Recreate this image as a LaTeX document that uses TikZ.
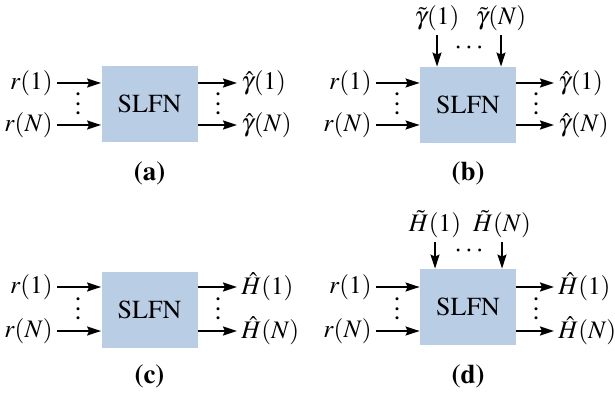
\documentclass[tikz,border=0pt]{standalone}
\usepackage[T1]{fontenc}
\usepackage{mathptmx}
\usetikzlibrary{arrows.meta,positioning}
\definecolor{slfnblue}{RGB}{185,205,229}
\newcommand{\vdotsx}{\vbox{\baselineskip4.8pt\lineskiplimit0pt\hbox{.}\hbox{.}\hbox{.}}}

\begin{document}
\begin{tikzpicture}[
    x=0.5pt, y=-0.5pt,
    box/.style={rectangle, fill=slfnblue, minimum width=48pt, minimum height=38pt, font=\fontsize{13}{15}\selectfont},
    lbl/.style={inner sep=2pt, font=\fontsize{12.6}{15}\selectfont},
    dots/.style={inner sep=0pt, font=\fontsize{14}{15}\selectfont},
    subcap/.style={font=\fontsize{13.5}{15}\selectfont\bfseries},
    arrow/.style={-{Stealth[length=7pt,width=4.5pt,inset=1pt]}, line width=1pt}
]
\useasboundingbox (0,0) rectangle (615,395);

% (a)
\node[box] (boxa) at (149.5,104) {SLFN};
\node[lbl, anchor=east] (ra1) at (57,83) {$r(1)$};
\node[lbl, anchor=east] (raN) at (57,125) {$r(N)$};
\node[lbl, anchor=west] (ga1) at (237,83) {$\hat{\gamma}(1)$};
\node[lbl, anchor=west] (gaN) at (237,125) {$\hat{\gamma}(N)$};
\node[dots] (dain) at (78,104) {\vdotsx};
\node[dots] (daout) at (218,104) {\vdotsx};
\node[subcap] (capa) at (149.5,174) {(a)};

\draw[arrow] (ra1.east) -- (boxa.west |- ra1.east);
\draw[arrow] (raN.east) -- (boxa.west |- raN.east);
\draw[arrow] (boxa.east |- ga1.west) -- (ga1.west);
\draw[arrow] (boxa.east |- gaN.west) -- (gaN.west);

% (b)
\node[box] (boxb) at (468,105) {SLFN};
\node[lbl, anchor=east] (rb1) at (376,83) {$r(1)$};
\node[lbl, anchor=east] (rbN) at (376,125) {$r(N)$};
\node[lbl, anchor=west] (gb1) at (554,83) {$\hat{\gamma}(1)$};
\node[lbl, anchor=west] (gbN) at (554,125) {$\hat{\gamma}(N)$};
\node[lbl, anchor=south] (tb1) at (437,35) {$\tilde{\gamma}(1)$};
\node[lbl, anchor=south] (tbN) at (501,35) {$\tilde{\gamma}(N)$};
\node[dots] (dbin) at (397,104) {\vdotsx};
\node[dots] (dbout) at (536,104) {\vdotsx};
\node[dots] (dbtop) at (469,48) {$\cdots$};
\node[subcap] (capb) at (468,174) {(b)};

\draw[arrow] (rb1.east) -- (boxb.west |- rb1.east);
\draw[arrow] (rbN.east) -- (boxb.west |- rbN.east);
\draw[arrow] (boxb.east |- gb1.west) -- (gb1.west);
\draw[arrow] (boxb.east |- gbN.west) -- (gbN.west);
\draw[arrow] (tb1.south) -- (tb1.south |- boxb.north);
\draw[arrow] (tbN.south) -- (tbN.south |- boxb.north);

% (c)
\node[box] (boxc) at (149.5,310) {SLFN};
\node[lbl, anchor=east] (rc1) at (57,287) {$r(1)$};
\node[lbl, anchor=east] (rcN) at (57,331) {$r(N)$};
\node[lbl, anchor=west] (hc1) at (237,287) {$\hat{H}(1)$};
\node[lbl, anchor=west] (hcN) at (237,331) {$\hat{H}(N)$};
\node[dots] (dcin) at (78,309) {\vdotsx};
\node[dots] (dcout) at (218,309) {\vdotsx};
\node[subcap] (capc) at (149.5,377) {(c)};

\draw[arrow] (rc1.east) -- (boxc.west |- rc1.east);
\draw[arrow] (rcN.east) -- (boxc.west |- rcN.east);
\draw[arrow] (boxc.east |- hc1.west) -- (hc1.west);
\draw[arrow] (boxc.east |- hcN.west) -- (hcN.west);

% (d)
\node[box] (boxd) at (468,307) {SLFN};
\node[lbl, anchor=east] (rd1) at (376,287) {$r(1)$};
\node[lbl, anchor=east] (rdN) at (376,331) {$r(N)$};
\node[lbl, anchor=west] (hd1) at (554,287) {$\hat{H}(1)$};
\node[lbl, anchor=west] (hdN) at (554,331) {$\hat{H}(N)$};
\node[lbl, anchor=south] (td1) at (435,242) {$\tilde{H}(1)$};
\node[lbl, anchor=south] (tdN) at (502,242) {$\tilde{H}(N)$};
\node[dots] (ddin) at (397,309) {\vdotsx};
\node[dots] (ddout) at (536,309) {\vdotsx};
\node[dots] (ddtop) at (469,251) {$\cdots$};
\node[subcap] (capd) at (468,377) {(d)};

\draw[arrow] (rd1.east) -- (boxd.west |- rd1.east);
\draw[arrow] (rdN.east) -- (boxd.west |- rdN.east);
\draw[arrow] (boxd.east |- hd1.west) -- (hd1.west);
\draw[arrow] (boxd.east |- hdN.west) -- (hdN.west);
\draw[arrow] (td1.south) -- (td1.south |- boxd.north);
\draw[arrow] (tdN.south) -- (tdN.south |- boxd.north);

\end{tikzpicture}
\end{document}
